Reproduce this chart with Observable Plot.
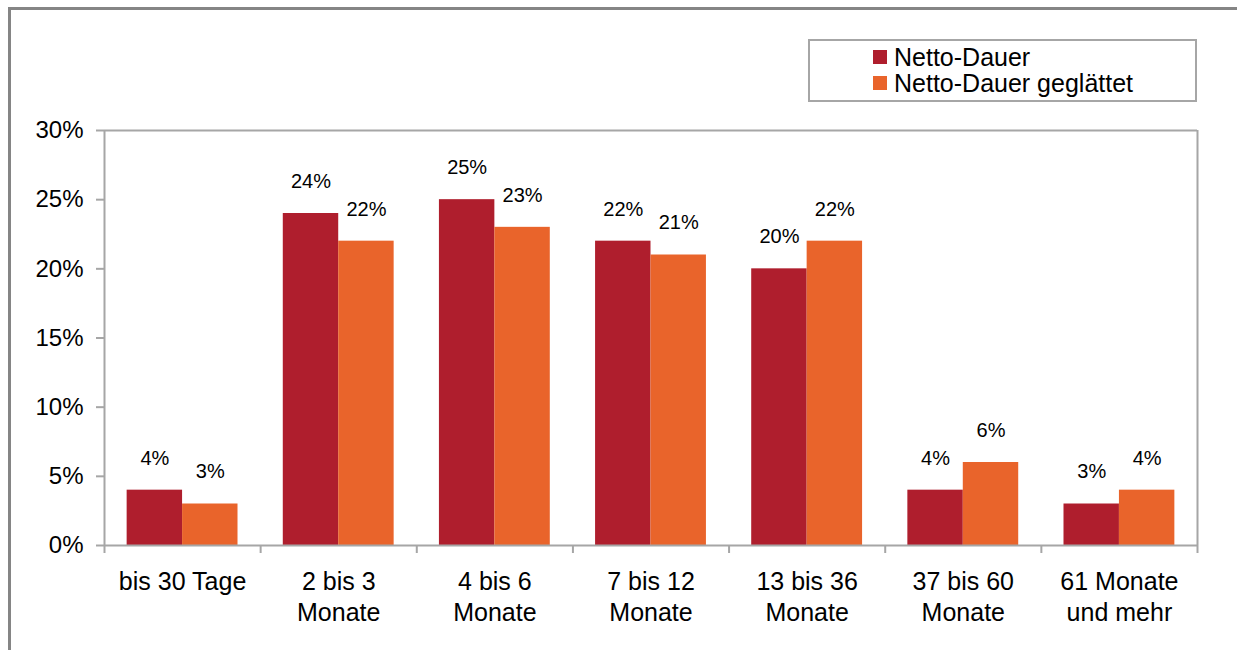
<!DOCTYPE html>
<html><head><meta charset="utf-8">
<script src="https://cdn.jsdelivr.net/npm/d3@7"></script>
<script src="https://cdn.jsdelivr.net/npm/@observablehq/plot@0.6"></script>
<style>
body{margin:0;background:#fff;font-family:"Liberation Sans",Arial,sans-serif;}
#wrap{position:relative;width:1237px;height:650px;overflow:hidden;background:#fff;}
#outer{position:absolute;left:8px;top:7px;width:1400px;height:800px;border-top:3px solid #858585;border-left:3px solid #858585;}
#chart{position:absolute;left:0;top:0;}
#legend{position:absolute;left:808px;top:39px;width:389px;height:63px;box-sizing:border-box;border:2px solid #a6a6a6;padding:3px 0 0 63px;background:#fff;}
.item{display:flex;align-items:center;height:26px;font-size:25px;line-height:26px;color:#000;white-space:nowrap;}
.sw{width:14px;height:14px;margin-right:7px;flex:none;}
</style>
</head><body>
<div id="wrap"><div id="outer"></div><div id="chart"></div><div id="legend"></div></div>
<script>
const categories = ["bis 30 Tage", "2 bis 3\nMonate", "4 bis 6\nMonate", "7 bis 12\nMonate", "13 bis 36\nMonate", "37 bis 60\nMonate", "61 Monate\nund mehr"];
const series = ["Netto-Dauer", "Netto-Dauer geglättet"];
const nettoDauer = [4, 24, 25, 22, 20, 4, 3];
const nettoDauerGeglaettet = [3, 22, 23, 21, 22, 6, 4];
const yTicks = [0, 5, 10, 15, 20, 25, 30];
const colors = ["#AF1E2D", "#E9642B"];

const rows = categories.flatMap((c, i) => [
  {cat: c, i, s: 0, series: series[0], value: nettoDauer[i]},
  {cat: c, i, s: 1, series: series[1], value: nettoDauerGeglaettet[i]}
]);
const groupPad = 0.145, barW = 0.355;
const axisColor = "#a6a6a6";

const chart = Plot.plot({
  width: 1237, height: 650,
  marginLeft: 104, marginRight: 40, marginTop: 130, marginBottom: 105,
  style: {fontFamily: '"Liberation Sans", Arial, sans-serif', fontSize: "24px", color: "#000", background: "transparent"},
  x: {domain: [0, categories.length], label: null},
  y: {domain: [0, 30], label: null},
  color: {domain: series, range: colors},
  marks: [
    Plot.rectY(rows, {
      x1: d => d.i + groupPad + d.s * barW,
      x2: d => d.i + groupPad + (d.s + 1) * barW,
      y1: 0, y2: "value", fill: "series"
    }),
    Plot.text(rows, {
      x: d => d.i + groupPad + (d.s + 0.5) * barW,
      y: "value", text: d => d.value + "%",
      dy: -32, fontSize: 20, fill: "#000", lineAnchor: "middle"
    }),
    Plot.ruleY([0, 30], {stroke: axisColor, strokeWidth: 2}),
    Plot.ruleX([0, categories.length], {stroke: axisColor, strokeWidth: 2}),
    Plot.axisY({ticks: yTicks, tickFormat: d => d + "%", tickSize: 8, tickPadding: 13, stroke: axisColor, strokeWidth: 2, fontSize: 24, label: null}),
    Plot.axisX({ticks: d3.range(categories.length + 1), tickFormat: () => "", tickSize: 8, stroke: axisColor, strokeWidth: 2, label: null}),
    Plot.axisX({ticks: categories.map((c, i) => i + 0.5), tickFormat: t => categories[Math.floor(t)], tickSize: 0, tickPadding: 22, lineHeight: 1.24, fontSize: 25, label: null})
  ]
});
document.getElementById("chart").appendChild(chart);

const legend = document.getElementById("legend");
series.forEach((s, k) => {
  const it = document.createElement("div");
  it.className = "item";
  const sw = document.createElement("span");
  sw.className = "sw";
  sw.style.background = colors[k];
  it.appendChild(sw);
  it.appendChild(document.createTextNode(s));
  legend.appendChild(it);
});
</script>
</body></html>
